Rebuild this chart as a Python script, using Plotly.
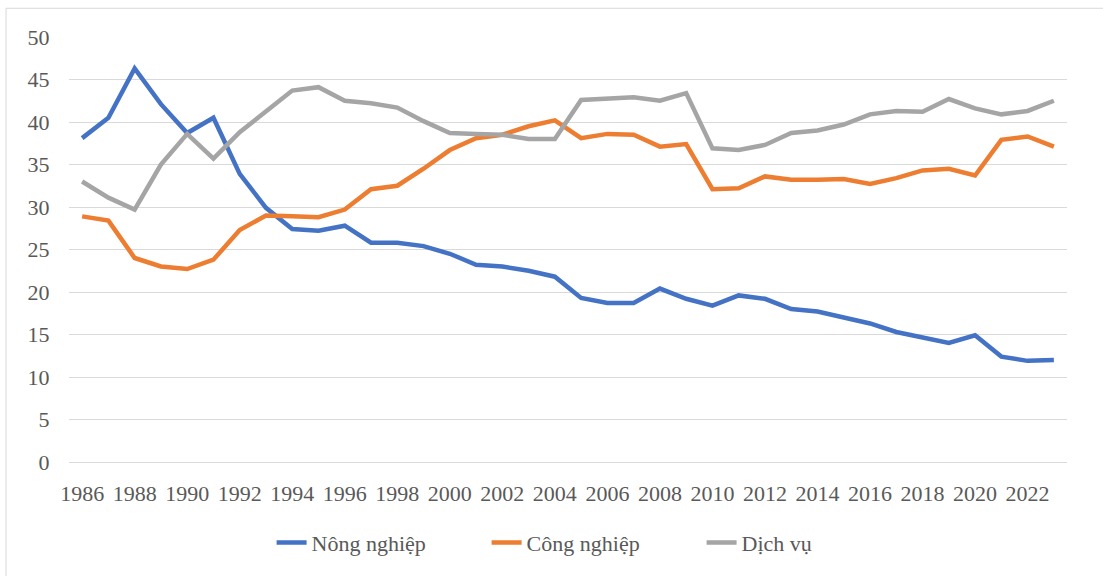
import plotly.graph_objects as go

years = list(range(1986, 2024))
nong_nghiep = [38.1, 40.5, 46.3, 42.1, 38.7, 40.5, 33.9, 29.9, 27.4, 27.2,
               27.8, 25.8, 25.8, 25.4, 24.5, 23.2, 23.0, 22.5, 21.8, 19.3,
               18.7, 18.7, 20.4, 19.2, 18.4, 19.6, 19.2, 18.0, 17.7, 17.0,
               16.3, 15.3, 14.6, 14.0, 14.9, 12.4, 11.9, 12.0]
cong_nghiep = [28.9, 28.4, 24.0, 23.0, 22.7, 23.8, 27.3, 29.0, 28.9, 28.8,
               29.7, 32.1, 32.5, 34.5, 36.7, 38.1, 38.5, 39.5, 40.2, 38.1,
               38.6, 38.5, 37.1, 37.4, 32.1, 32.2, 33.6, 33.2, 33.2, 33.3,
               32.7, 33.4, 34.3, 34.5, 33.7, 37.9, 38.3, 37.1]
dich_vu = [33.0, 31.1, 29.7, 35.0, 38.6, 35.7, 38.8, 41.2, 43.7, 44.1,
           42.5, 42.2, 41.7, 40.1, 38.7, 38.6, 38.5, 38.0, 38.0, 42.6,
           42.7, 42.9, 42.5, 43.4, 36.9, 36.7, 37.3, 38.7, 39.0, 39.7,
           40.9, 41.3, 41.2, 42.7, 41.6, 40.9, 41.3, 42.5]
series_names = ["Nông nghiệp", "Công nghiệp", "Dịch vụ"]
colors = ["#4472C4", "#ED7D31", "#A5A5A5"]
x_tick_years = list(range(1986, 2023, 2))
y_ticks = list(range(0, 55, 5))

FONT = "Liberation Serif"
TXT = "#595959"
GRID = "#D9D9D9"

fig = go.Figure()
for name, vals, c in zip(series_names, [nong_nghiep, cong_nghiep, dich_vu], colors):
    fig.add_trace(go.Scatter(x=years, y=vals, mode="lines", name=name,
                             line=dict(color=c, width=4.5, shape="linear"),
                             hoverinfo="x+y+name"))

fig.update_layout(
    width=1103, height=576,
    margin=dict(l=69, r=36, t=37, b=110),
    paper_bgcolor="white", plot_bgcolor="white",
    font=dict(family=FONT, size=22, color=TXT),
    showlegend=True,
    legend=dict(orientation="h", x=0.203, xanchor="left", y=-0.19, yanchor="middle",
                font=dict(family=FONT, size=22, color=TXT), itemwidth=30,
                entrywidth=170, entrywidthmode="pixels",
                traceorder="normal"),
    xaxis=dict(range=[1985.5, 2023.5], tickmode="array", tickvals=x_tick_years,
               ticktext=[str(y) for y in x_tick_years], showgrid=False,
               zeroline=False, showline=False, ticks="outside", ticklen=12,
               tickcolor="rgba(0,0,0,0)", tickfont=dict(family=FONT, size=22, color=TXT)),
    yaxis=dict(range=[0, 50], tickmode="array", tickvals=y_ticks,
               showgrid=True, gridcolor=GRID, gridwidth=1,
               zeroline=True, zerolinecolor=GRID, zerolinewidth=1,
               showline=False, ticks="outside", ticklen=14,
               tickcolor="rgba(0,0,0,0)", tickfont=dict(family=FONT, size=22, color=TXT)),
    shapes=[dict(type="rect", xref="paper", yref="paper",
                 x0=-0.0631, x1=1.2, y0=-0.5, y1=1.0676,
                 line=dict(color=GRID, width=1), fillcolor="rgba(0,0,0,0)", layer="below")],
)

fig.write_html("out.html", config={"displayModeBar": False},
               post_script="document.body.style.margin='0';")
